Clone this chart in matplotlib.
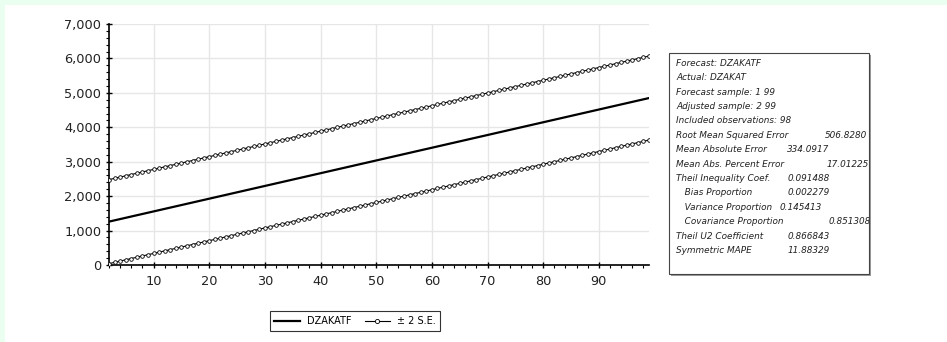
import matplotlib
matplotlib.use("Agg")
import matplotlib.pyplot as plt
from matplotlib.patches import Rectangle
from matplotlib.ticker import FuncFormatter, MultipleLocator
from matplotlib.lines import Line2D

# ---- data ----
obs = list(range(2, 100))
forecast = [1260, 1297, 1334, 1371, 1408, 1445, 1482, 1519, 1556, 1593,
            1630, 1667, 1704, 1741, 1778, 1815, 1852, 1889, 1926, 1963,
            2000, 2037, 2074, 2111, 2148, 2185, 2222, 2259, 2296, 2333,
            2370, 2407, 2444, 2481, 2518, 2555, 2592, 2629, 2666, 2703,
            2740, 2777, 2814, 2851, 2888, 2925, 2962, 2999, 3036, 3073,
            3110, 3147, 3184, 3221, 3258, 3295, 3332, 3369, 3406, 3443,
            3480, 3517, 3554, 3591, 3628, 3665, 3702, 3739, 3776, 3813,
            3850, 3887, 3924, 3961, 3998, 4035, 4072, 4109, 4146, 4183,
            4220, 4257, 4294, 4331, 4368, 4405, 4442, 4479, 4516, 4553,
            4590, 4627, 4664, 4701, 4738, 4775, 4812, 4849]
se = 610
upper = [f + 2 * se for f in forecast]
lower = [f - 2 * se for f in forecast]

y_ticks = [0, 1000, 2000, 3000, 4000, 5000, 6000, 7000]
x_ticks = [10, 20, 30, 40, 50, 60, 70, 80, 90]

stats_lines = [
    ("Forecast: DZAKATF", "", 0),
    ("Actual: DZAKAT", "", 0),
    ("Forecast sample: 1 99", "", 0),
    ("Adjusted sample: 2 99", "", 0),
    ("Included observations: 98", "", 0),
    ("Root Mean Squared Error", "506.8280", 825),
    ("Mean Absolute Error", "334.0917", 787),
    ("Mean Abs. Percent Error", "17.01225", 827),
    ("Theil Inequality Coef.", "0.091488", 788),
    ("   Bias Proportion", "0.002279", 788),
    ("   Variance Proportion", "0.145413", 780),
    ("   Covariance Proportion", "0.851308", 829),
    ("Theil U2 Coefficient", "0.866843", 788),
    ("Symmetric MAPE", "11.88329", 788),
]

W, H = 947, 342
fig = plt.figure(figsize=(W / 100, H / 100), dpi=100)
fig.patch.set_facecolor("white")

# light green strips top/left
fig.patches.append(Rectangle((0, 1 - 5 / H), 1, 5 / H, transform=fig.transFigure,
                             facecolor="#ebfff0", edgecolor="none", zorder=0))
fig.patches.append(Rectangle((0, 0), 5 / W, 1, transform=fig.transFigure,
                             facecolor="#ebfff0", edgecolor="none", zorder=0))

ax = fig.add_axes([109 / W, 1 - 265 / H, (649 - 109) / W, (265 - 24) / H])
ax.plot(obs, forecast, color="black", lw=1.6, zorder=3)
ax.plot(obs, upper, color="black", lw=0.8, marker="o", ms=2.6, mfc="white",
        mec="black", mew=0.6, zorder=3)
ax.plot(obs, lower, color="black", lw=0.8, marker="o", ms=2.6, mfc="white",
        mec="black", mew=0.6, zorder=3)

ax.set_xlim(2, 99)
ax.set_ylim(0, 7000)
ax.set_xticks(x_ticks)
ax.set_yticks(y_ticks)
ax.xaxis.set_minor_locator(MultipleLocator(2))
ax.yaxis.set_minor_locator(MultipleLocator(200))
ax.yaxis.set_major_formatter(FuncFormatter(lambda v, p: f"{int(v):,}"))
ax.grid(True, which="major", color="#e6e6e6", lw=1.0)
ax.set_axisbelow(True)
for s in ["top", "right"]:
    ax.spines[s].set_visible(False)
for s in ["left", "bottom"]:
    ax.spines[s].set_color("black")
    ax.spines[s].set_linewidth(1.2)
ax.tick_params(axis="both", which="major", labelsize=9.3, colors="black",
               length=5, width=1, direction="inout")
ax.tick_params(axis="x", which="minor", length=2, width=0.8, direction="out")
ax.tick_params(axis="y", which="minor", length=2.5, width=0.8, direction="out")
ax.tick_params(axis="x", which="major", pad=5)
ax.tick_params(axis="y", which="major", pad=3)
for lab in ax.get_xticklabels() + ax.get_yticklabels():
    lab.set_color("#222222")

# legend
h1 = Line2D([], [], color="black", lw=1.6)
h2 = Line2D([], [], color="black", lw=0.8, marker="o", ms=3, mfc="white", mec="black", mew=0.6)
leg = fig.legend([h1, h2], ["DZAKATF", "± 2 S.E."], loc="center",
                 bbox_to_anchor=(355 / W, 1 - 321 / H), ncol=2, fontsize=7,
                 frameon=True, fancybox=False, edgecolor="black",
                 handlelength=2.6, columnspacing=1.4, borderpad=0.5,
                 handletextpad=0.7)
leg.get_frame().set_linewidth(0.8)

# stats box with shadow
bx0, bx1, by0, by1 = 669, 869, 53, 274
fig.patches.append(Rectangle(((bx0 + 2) / W, 1 - (by1 + 2) / H), (bx1 - bx0) / W,
                             (by1 - by0) / H, transform=fig.transFigure,
                             facecolor="#9a9a9a", edgecolor="none", zorder=1))
box = Rectangle((bx0 / W, 1 - by1 / H), (bx1 - bx0) / W,
                (by1 - by0) / H, transform=fig.transFigure,
                facecolor="white", edgecolor="#444444", lw=0.8, zorder=2)
fig.patches.append(box)
y0 = 63.3
dy = 14.4
for i, (lab, val, vx) in enumerate(stats_lines):
    yy = 1 - (y0 + i * dy) / H
    fig.text(676 / W, yy, lab, fontsize=6.4, style="italic", color="#222222",
             va="center", ha="left", zorder=5)
    if val:
        t = fig.text(vx / W, yy, val, fontsize=6.4, style="italic", color="#222222",
                     va="center", ha="left", zorder=5)
        t.set_clip_path(box)

fig.savefig("out.png", dpi=100, facecolor=fig.get_facecolor())
